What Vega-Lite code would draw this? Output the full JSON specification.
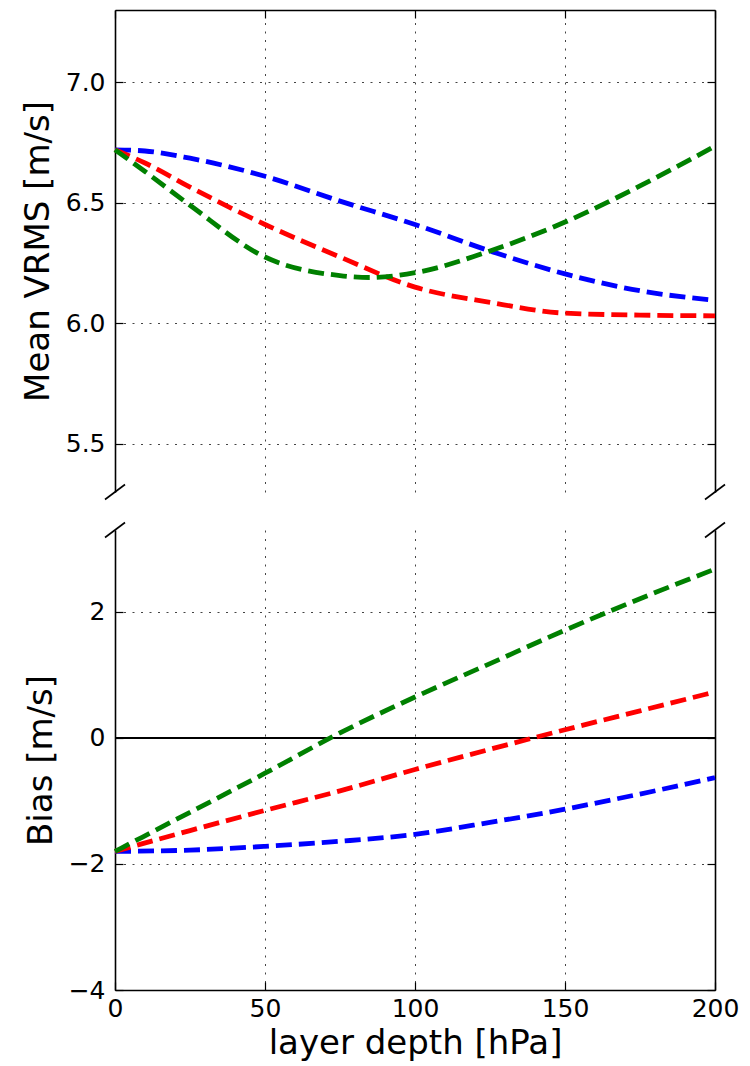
{
  "$schema": "https://vega.github.io/schema/vega-lite/v6.json",
  "background": "white",
  "padding": {"left": 21, "top": 9, "right": 5, "bottom": 4},
  "spacing": 38,
  "bounds": "flush",
  "datasets": {
    "vrms": [
      {"depth": 0, "series": "s1", "value": 6.72},
      {"depth": 10, "series": "s1", "value": 6.715},
      {"depth": 25, "series": "s1", "value": 6.685},
      {"depth": 50, "series": "s1", "value": 6.61},
      {"depth": 75, "series": "s1", "value": 6.507},
      {"depth": 100, "series": "s1", "value": 6.41},
      {"depth": 125, "series": "s1", "value": 6.30},
      {"depth": 150, "series": "s1", "value": 6.205},
      {"depth": 175, "series": "s1", "value": 6.135},
      {"depth": 200, "series": "s1", "value": 6.095},
      {"depth": 0, "series": "s2", "value": 6.72},
      {"depth": 10, "series": "s2", "value": 6.665},
      {"depth": 25, "series": "s2", "value": 6.565},
      {"depth": 50, "series": "s2", "value": 6.41},
      {"depth": 75, "series": "s2", "value": 6.275},
      {"depth": 100, "series": "s2", "value": 6.15},
      {"depth": 125, "series": "s2", "value": 6.087},
      {"depth": 150, "series": "s2", "value": 6.042},
      {"depth": 175, "series": "s2", "value": 6.034},
      {"depth": 200, "series": "s2", "value": 6.031},
      {"depth": 0, "series": "s3", "value": 6.72},
      {"depth": 10, "series": "s3", "value": 6.63},
      {"depth": 25, "series": "s3", "value": 6.49},
      {"depth": 50, "series": "s3", "value": 6.275},
      {"depth": 75, "series": "s3", "value": 6.198},
      {"depth": 85, "series": "s3", "value": 6.19},
      {"depth": 100, "series": "s3", "value": 6.21},
      {"depth": 125, "series": "s3", "value": 6.30},
      {"depth": 150, "series": "s3", "value": 6.42},
      {"depth": 175, "series": "s3", "value": 6.57},
      {"depth": 200, "series": "s3", "value": 6.735}
    ],
    "bias": [
      {"depth": 0, "series": "s1", "value": -1.80},
      {"depth": 25, "series": "s1", "value": -1.78},
      {"depth": 50, "series": "s1", "value": -1.72},
      {"depth": 75, "series": "s1", "value": -1.64},
      {"depth": 100, "series": "s1", "value": -1.53},
      {"depth": 125, "series": "s1", "value": -1.34},
      {"depth": 150, "series": "s1", "value": -1.13},
      {"depth": 175, "series": "s1", "value": -0.89},
      {"depth": 200, "series": "s1", "value": -0.63},
      {"depth": 0, "series": "s2", "value": -1.80},
      {"depth": 25, "series": "s2", "value": -1.47},
      {"depth": 50, "series": "s2", "value": -1.15},
      {"depth": 75, "series": "s2", "value": -0.84},
      {"depth": 100, "series": "s2", "value": -0.50},
      {"depth": 125, "series": "s2", "value": -0.18},
      {"depth": 150, "series": "s2", "value": 0.13},
      {"depth": 175, "series": "s2", "value": 0.43},
      {"depth": 200, "series": "s2", "value": 0.73},
      {"depth": 0, "series": "s3", "value": -1.80},
      {"depth": 25, "series": "s3", "value": -1.18},
      {"depth": 50, "series": "s3", "value": -0.56},
      {"depth": 75, "series": "s3", "value": 0.08},
      {"depth": 100, "series": "s3", "value": 0.65},
      {"depth": 125, "series": "s3", "value": 1.18},
      {"depth": 150, "series": "s3", "value": 1.71},
      {"depth": 175, "series": "s3", "value": 2.21},
      {"depth": 200, "series": "s3", "value": 2.68}
    ]
  },
  "config": {
    "view": {"stroke": null},
    "font": "DejaVu Sans",
    "axis": {
      "labelFont": "DejaVu Sans",
      "titleFont": "DejaVu Sans",
      "labelFontSize": 25,
      "titleFontSize": 34,
      "titleFontWeight": "normal",
      "labelColor": "#000",
      "titleColor": "#000",
      "domainColor": "#000",
      "domainWidth": 1.6,
      "tickColor": "#000",
      "tickWidth": 1.2,
      "tickSize": -8,
      "gridColor": "#444",
      "gridDash": [2, 6.5],
      "gridWidth": 1,
      "gridOpacity": 1,
      "labelPadding": 18,
      "titlePadding": 10,
      "labelFlush": false,
      "labelOverlap": false
    },
    "axisX": {"labelPadding": 14, "titlePadding": 5}
  },
  "vconcat": [
    {
      "width": 600,
      "height": 482,
      "layer": [
        {
          "data": {"name": "vrms"},
          "mark": {"type": "line", "interpolate": "monotone", "strokeWidth": 4.8, "strokeDash": [16, 7]},
          "encoding": {
            "x": {
              "field": "depth", "type": "quantitative",
              "scale": {"domain": [0, 200], "nice": false},
              "axis": {"orient": "top", "values": [0, 50, 100, 150, 200], "labels": false, "title": null, "grid": true}
            },
            "y": {
              "field": "value", "type": "quantitative",
              "scale": {"domain": [5.3, 7.3], "nice": false, "zero": false},
              "axis": {"orient": "left", "values": [5.5, 6, 6.5, 7], "format": ".1f", "title": "Mean VRMS [m/s]", "grid": true}
            },
            "color": {
              "field": "series", "type": "nominal",
              "scale": {"domain": ["s1", "s2", "s3"], "range": ["#0000ff", "#ff0000", "#008000"]},
              "legend": null
            }
          }
        },
        {
          "data": {"values": [{"depth": 0}, {"depth": 200}]},
          "mark": {"type": "point", "shape": "M-1,0.75L1,-0.75", "size": 400, "filled": false, "stroke": "#000", "strokeWidth": 1.6, "opacity": 1},
          "encoding": {
            "x": {
              "field": "depth", "type": "quantitative",
              "axis": {"orient": "top", "values": [0, 50, 100, 150, 200], "labels": false, "title": null, "grid": true}
            },
            "y": {"datum": 5.3, "type": "quantitative", "axis": {"orient": "right", "values": [5.5, 6, 6.5, 7], "labels": false, "title": null, "grid": false}}
          }
        }
      ],
      "resolve": {"axis": {"y": "independent"}}
    },
    {
      "width": 600,
      "height": 460,
      "layer": [
        {
          "data": {"values": [{}]},
          "mark": {"type": "rule", "color": "#000", "strokeWidth": 2},
          "encoding": {
            "y": {"datum": 0, "type": "quantitative", "axis": null}
          }
        },
        {
          "data": {"name": "bias"},
          "mark": {"type": "line", "interpolate": "monotone", "strokeWidth": 4.8, "strokeDash": [16, 7]},
          "encoding": {
            "x": {
              "field": "depth", "type": "quantitative",
              "scale": {"domain": [0, 200], "nice": false},
              "axis": {"orient": "bottom", "values": [0, 50, 100, 150, 200], "title": "layer depth [hPa]", "grid": true}
            },
            "y": {
              "field": "value", "type": "quantitative",
              "scale": {"domain": [-4, 3.3], "nice": false, "zero": false},
              "axis": {"orient": "left", "values": [-4, -2, 0, 2], "title": "Bias [m/s]", "grid": true}
            },
            "color": {
              "field": "series", "type": "nominal",
              "scale": {"domain": ["s1", "s2", "s3"], "range": ["#0000ff", "#ff0000", "#008000"]},
              "legend": null
            }
          }
        },
        {
          "data": {"values": [{"depth": 0}, {"depth": 200}]},
          "mark": {"type": "point", "shape": "M-1,0.75L1,-0.75", "size": 400, "filled": false, "stroke": "#000", "strokeWidth": 1.6, "opacity": 1},
          "encoding": {
            "x": {
              "field": "depth", "type": "quantitative",
              "axis": {"orient": "bottom", "values": [0, 50, 100, 150, 200], "title": "layer depth [hPa]", "grid": true}
            },
            "y": {"datum": 3.3, "type": "quantitative", "axis": {"orient": "right", "values": [-4, -2, 0, 2], "labels": false, "title": null, "grid": false}}
          }
        }
      ],
      "resolve": {"axis": {"y": "independent"}}
    }
  ]
}
